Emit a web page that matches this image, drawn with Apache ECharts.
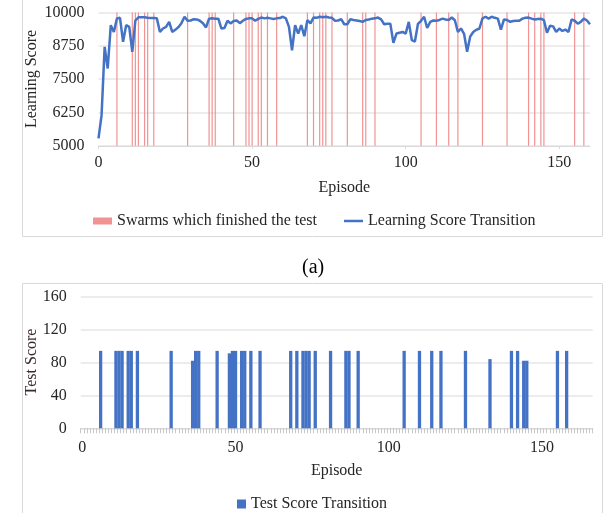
<!DOCTYPE html>
<html>
<head>
<meta charset="utf-8">
<script src="https://cdn.jsdelivr.net/npm/echarts@6/dist/echarts.min.js"></script>
<style>
html,body{margin:0;padding:0;background:#fff;}
#c{width:607px;height:513px;}
</style>
</head>
<body>
<div id="c"></div>
<script>
// ---- data ----
const learningEpisodes = Array.from({length: 161}, (_, i) => String(i)); // 0..160
const learningScores = [
 5280,6150,8710,7900,9525,9270,9775,9800,8900,9525,
 9460,8525,9700,9820,9820,9820,9800,9790,9790,9780,
 9270,9400,9460,9650,9270,9350,9450,9600,9840,9690,
 9700,9750,9740,9690,9600,9440,9770,9780,9770,9770,
 9400,9420,9690,9590,9680,9700,9600,9690,9760,9780,
 9780,9690,9760,9810,9780,9800,9780,9760,9780,9790,
 9840,9780,9460,8585,9525,9210,9525,9110,9710,9590,
 9810,9800,9840,9820,9840,9810,9800,9690,9700,9750,
 9560,9560,9750,9720,9700,9680,9650,9720,9740,9770,
 9780,9810,9740,9560,9580,9580,8860,9210,9240,9270,
 9210,9650,8960,8910,9575,9690,9840,9420,9650,9700,
 9690,9720,9770,9740,9720,9810,9710,9270,9400,9200,
 8525,9100,9270,9350,9400,9780,9840,9770,9840,9800,
 9770,9360,9740,9720,9650,9680,9690,9690,9770,9800,
 9810,9770,9740,9760,9770,9710,9240,9500,9480,9270,
 9400,9310,9360,9270,9740,9690,9580,9650,9770,9700,
 9560
];
const testEpisodes = [6,11,12,13,15,16,18,29,36,37,38,44,48,49,50,52,53,55,58,68,70,72,73,74,76,81,86,87,90,105,110,114,117,125,133,140,142,144,145,155,158];
const testScores   = [94,94,94,94,94,94,94,94,82,94,94,94,91,94,94,94,94,94,94,94,94,94,94,94,94,94,94,94,94,94,94,94,94,94,84,94,94,82,82,94,94];
const finishedMarker = 10000;
const testCategories = Array.from({length: 167}, (_, i) => String(i)); // 0..166
const learningTicks = [5000, 6250, 7500, 8750, 10000];
const testTicks = [0, 40, 80, 120, 160];

// ---- derived series arrays ----
const finishedSeries = learningEpisodes.map((e) => testEpisodes.includes(Number(e)) ? finishedMarker : null);
const testSeries = testCategories.map((e) => {
  const k = testEpisodes.indexOf(Number(e));
  return k >= 0 ? testScores[k] : null;
});

const FONT = '"Liberation Serif","Times New Roman",serif';
const TXT = '#262626';
const chart = echarts.init(document.getElementById('c'), null, {renderer: 'canvas'});
chart.setOption({
  animation: false,
  backgroundColor: '#fff',
  textStyle: {fontFamily: FONT},
  graphic: [
    {type: 'rect', shape: {x: 22.5, y: -1, width: 580, height: 237.5}, style: {fill: 'none', stroke: '#d9d9d9', lineWidth: 1}, silent: true, z: -10},
    {type: 'rect', shape: {x: 22.5, y: 283.5, width: 580, height: 232}, style: {fill: 'none', stroke: '#d9d9d9', lineWidth: 1}, silent: true, z: -10},
    {type: 'text', left: 302, top: 258, style: {text: '(a)', font: '20px ' + FONT, fill: '#000'}},
    {type: 'text', x: 32, y: 79, rotation: Math.PI / 2,
     style: {text: 'Learning Score', font: '16px ' + FONT, fill: TXT, align: 'center', verticalAlign: 'middle'}},
    {type: 'text', x: 32, y: 362, rotation: Math.PI / 2,
     style: {text: 'Test Score', font: '16px ' + FONT, fill: '#3b2a2a', align: 'center', verticalAlign: 'middle'}}
  ],
  legend: [
    {left: 88, top: 208, itemWidth: 19, itemHeight: 7,
     textStyle: {fontFamily: FONT, fontSize: 16, color: TXT},
     data: [{name: 'Swarms which finished the test', icon: 'rect'}]},
    {left: 339, top: 208, itemWidth: 19, itemHeight: 2.5,
     textStyle: {fontFamily: FONT, fontSize: 16, color: TXT},
     data: [{name: 'Learning Score Transition', icon: 'rect'}]},
    {left: 232, top: 491, itemWidth: 9, itemHeight: 9,
     textStyle: {fontFamily: FONT, fontSize: 16, color: TXT},
     data: [{name: 'Test Score Transition', icon: 'rect'}]}
  ],
  grid: [
    {left: 98.5, top: 12.5, width: 491.5, height: 133.3, containLabel: false},
    {left: 80.7, top: 296.5, width: 512, height: 131.8, containLabel: false}
  ],
  xAxis: [
    {type: 'category', gridIndex: 0, data: learningEpisodes, boundaryGap: false,
     name: 'Episode', nameLocation: 'middle', nameGap: 34,
     nameTextStyle: {fontFamily: FONT, fontSize: 16, color: TXT},
     axisLine: {lineStyle: {color: '#d9d9d9', width: 1}},
     axisTick: {show: true, interval: 49, length: 3, lineStyle: {color: '#d9d9d9'}},
     axisLabel: {interval: 49, margin: 9, fontFamily: FONT, fontSize: 16, color: TXT},
     splitLine: {show: false}},
    {type: 'category', gridIndex: 1, data: testCategories, boundaryGap: true,
     name: 'Episode', nameLocation: 'middle', nameGap: 34,
     nameTextStyle: {fontFamily: FONT, fontSize: 16, color: TXT},
     axisLine: {lineStyle: {color: '#d9d9d9', width: 1}},
     axisTick: {show: true, interval: 0, length: 5, lineStyle: {color: '#c8c8c8'}},
     axisLabel: {interval: 49, margin: 11, fontFamily: FONT, fontSize: 16, color: TXT},
     splitLine: {show: false}}
  ],
  yAxis: [
    {type: 'value', gridIndex: 0, min: learningTicks[0], max: learningTicks[learningTicks.length - 1], interval: 1250,
     axisLine: {show: false}, axisTick: {show: false},
     axisLabel: {margin: 14, fontFamily: FONT, fontSize: 16, color: TXT, formatter: (v) => String(v)},
     splitLine: {lineStyle: {color: '#e6e6e6', width: 1.5}}},
    {type: 'value', gridIndex: 1, min: testTicks[0], max: testTicks[testTicks.length - 1], interval: 40,
     axisLine: {show: false}, axisTick: {show: false},
     axisLabel: {margin: 14, fontFamily: FONT, fontSize: 16, color: TXT, formatter: (v) => String(v)},
     splitLine: {lineStyle: {color: '#e6e6e6', width: 1.5}}}
  ],
  series: [
    {name: 'Swarms which finished the test', type: 'bar', xAxisIndex: 0, yAxisIndex: 0,
     data: finishedSeries, barWidth: 1.2, itemStyle: {color: '#f19393'}, z: 1},
    {name: 'Learning Score Transition', type: 'line', xAxisIndex: 0, yAxisIndex: 0,
     data: learningScores, symbol: 'none', showSymbol: false,
     lineStyle: {color: '#4472c4', width: 2.5}, itemStyle: {color: '#4472c4'}, z: 3},
    {name: 'Test Score Transition', type: 'bar', xAxisIndex: 1, yAxisIndex: 1,
     data: testSeries, barWidth: 3.3, itemStyle: {color: '#4472c4'}}
  ]
});
</script>
</body>
</html>
